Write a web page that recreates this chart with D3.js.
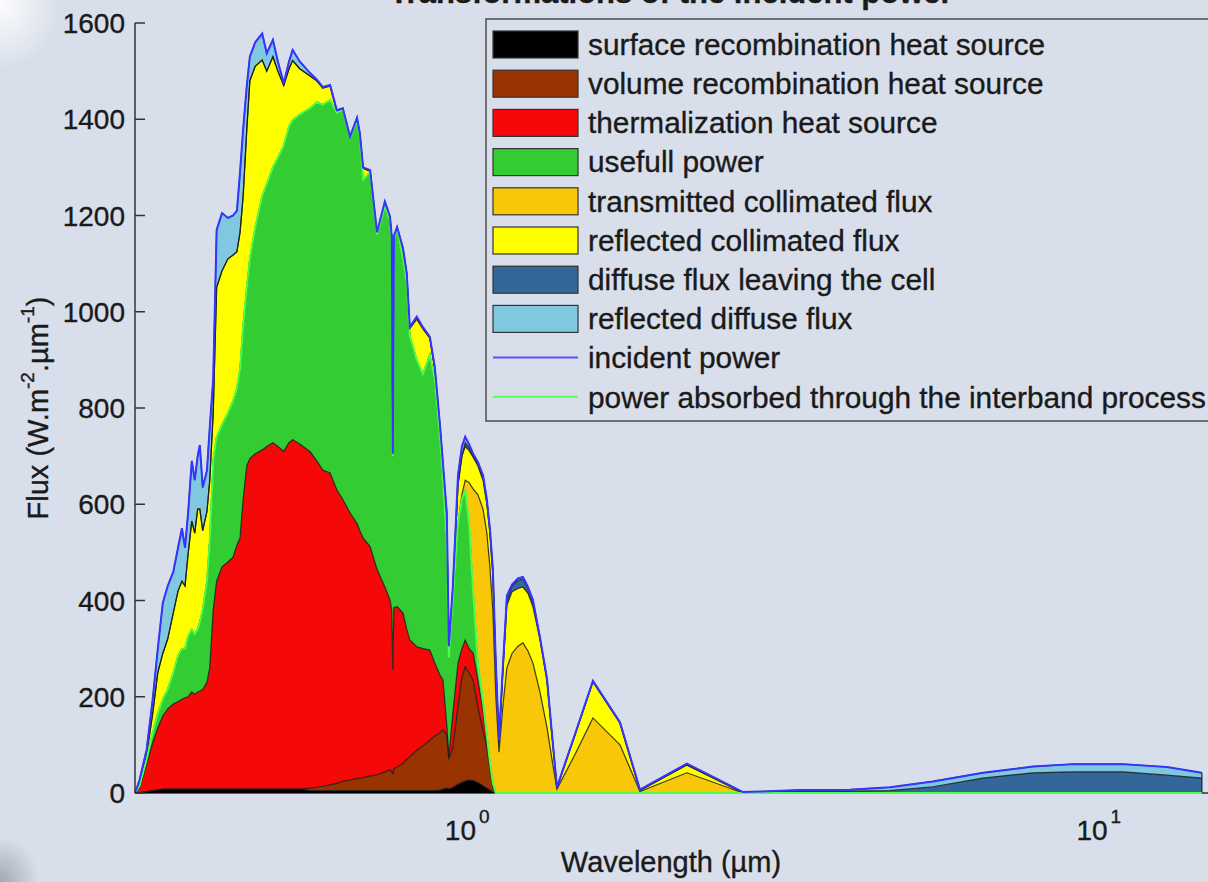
<!DOCTYPE html>
<html>
<head>
<meta charset="utf-8">
<script src="https://cdn.jsdelivr.net/npm/d3@7"></script>
<style>
  html, body { margin: 0; padding: 0; background: #d9dfea; }
  svg { display: block; }
  text { font-family: "Liberation Sans", Arial, sans-serif; fill: #1a1a1a; stroke: #1a1a1a; stroke-width: 0.35px; }
</style>
</head>
<body>
<svg id="chart" width="1208" height="882"></svg>
<script>
// ---------------- data ----------------
const wavelength = [0.300,0.305,0.313,0.320,0.326,0.332,0.338,0.345,0.351,0.356,0.360,0.364,0.369,0.373,0.377,0.380,0.384,0.390,0.394,0.399,
  0.404,0.412,0.421,0.429,0.435,0.440,0.445,0.451,0.456,0.465,0.477,0.485,0.496,0.505,0.516,0.526,0.533,0.547,0.568,0.582,
  0.595,0.611,0.626,0.640,0.657,0.674,0.681,0.689,0.707,0.725,0.746,0.760,0.765,0.768,0.771,0.780,0.797,0.808,0.817,0.838,
  0.857,0.879,0.895,0.912,0.922,0.935,0.942,0.956,0.974,0.988,1.000,1.014,1.029,1.047,1.067,1.082,1.094,1.106,1.118,1.131,
  1.147,1.164,1.186,1.212,1.234,1.257,1.280,1.313,1.347,1.372,1.397,1.492,1.593,1.758,1.891,2.244,2.753,2.929,3.388,4.065,
  4.703,5.503,6.602,7.921,9.167,11.00,12.91,14.67];

const surfaceRecombination = [0,1,3,5,6,8,8,8,8,8,8,8,8,8,8,8,8,8,8,8,
  8,8,8,8,8,8,8,8,8,8,8,8,8,8,8,8,8,8,5,5,
  5,5,5,5,5,5,5,5,5,5,5,5,5,5,5,5,5,5,5,5,
  5,5,5,6,8,10,8,12,18,22,25,27,26,22,15,10,6,2,0,0,
  0,0,0,0,0,0,0,0,0,0,0,0,0,0,0,0,0,0,0,0,
  0,0,0,0,0,0,0,0];

const volumeRecombination = [0,0,0,0,0,0,0,0,0,0,0,0,0,0,0,0,0,0,0,0,
  0,0,0,0,0,0,0,0,0,0,0,0,0,0,0,0,0,0,5,7,
  9,12,15,19,22,25,26,27,30,33,39,43,41,33,45,49,57,65,70,84,
  93,105,113,119,123,110,62,84,162,218,237,223,209,157,115,86,44,10,0,0,
  0,0,0,0,0,0,0,0,0,0,0,0,0,0,0,0,0,0,0,0,
  0,0,0,0,0,0,0,0];

const thermalization = [0,9,57,100,129,152,167,177,182,187,190,192,202,197,202,204,207,222,252,372,
  432,462,472,482,507,522,602,672,687,697,705,712,720,712,702,720,726,717,699,678,
  657,648,610,586,555,530,514,498,477,427,384,353,334,218,335,333,312,270,243,215,
  202,187,152,120,104,20,5,70,90,60,56,50,56,56,40,14,10,2,0,0,
  0,0,0,0,0,0,0,0,0,0,0,0,0,0,0,0,0,0,0,0,
  0,0,0,0,0,0,0,0];

const usefulPower = [0,5,10,20,30,35,40,65,95,105,102,125,130,125,130,143,165,210,265,310,
  300,295,310,325,325,350,360,370,415,470,527,545,572,600,635,657,664,685,714,746,
  759,775,783,809,780,838,819,744,778,695,790,790,770,444,765,785,736,720,632,596,
  570,613,588,495,415,380,205,234,290,310,312,260,129,35,20,10,5,6,0,0,
  0,0,0,0,0,0,0,0,0,0,0,0,0,0,0,0,0,0,0,0,
  0,0,0,0,0,0,0,0];

const transmittedCollimated = [0,0,0,0,0,0,0,0,0,0,0,0,0,0,0,0,0,0,0,0,
  0,0,0,0,0,0,0,0,0,0,0,0,0,0,0,0,0,0,0,0,
  0,0,0,0,0,0,0,0,0,0,0,0,0,0,0,0,0,0,0,0,
  0,0,0,0,0,0,0,0,0,10,20,85,212,350,400,420,405,360,200,85,
  180,260,290,305,312,295,270,210,137,70,8,80,156,100,3,42,0,0,0,0,
  0,0,0,0,0,0,0,0];

const reflectedCollimated = [0,7,10,40,85,95,105,125,135,140,130,170,225,210,250,235,165,145,125,100,
  310,320,320,303,285,285,270,330,370,335,283,235,230,180,125,120,124,95,67,44,
  35,29,4,2,1,3,5,24,2,3,8,5,5,3,5,2,20,18,15,85,
  95,35,22,20,30,40,15,20,80,80,70,67,66,60,60,60,70,70,60,20,
  70,130,128,120,116,120,117,110,98,50,2,40,75,45,2,16,0,0,0,0,
  0,0,0,0,0,0,0,0];

const diffuseLeaving = [0,0,0,0,0,0,0,0,0,0,0,0,0,0,0,0,0,0,0,0,
  0,0,0,0,0,0,0,0,0,0,0,0,0,0,0,0,0,0,0,0,
  0,0,0,0,0,0,0,0,0,0,0,0,0,0,0,0,0,0,0,0,
  0,0,0,0,0,0,0,0,0,0,8,6,4,5,6,6,6,10,6,3,
  6,10,12,17,17,10,11,2,2,2,1,1,1,1,1,1,1,2,4,4,
  5,13,31,42,44,44,37,31];

const reflectedDiffuse = [0,5,10,30,50,105,110,85,90,110,80,85,125,110,110,133,90,85,110,70,
  120,120,85,82,85,125,140,90,50,50,55,37,35,20,5,15,22,15,6,3,
  2,2,2,2,1,2,2,2,2,2,3,2,2,2,2,2,2,2,3,5,
  3,3,5,5,5,22,10,10,20,20,12,7,3,3,4,4,4,5,4,2,
  4,10,3,4,4,3,3,2,1,1,1,1,1,1,1,2,1,1,2,3,
  7,11,11,13,16,16,17,11];

const seriesNames = ["surface recombination heat source","volume recombination heat source","thermalization heat source",
  "usefull power","transmitted collimated flux","reflected collimated flux","diffuse flux leaving the cell","reflected diffuse flux"];
const lineNames = ["incident power","power absorbed through the interband process"];
const yTicks = [0,200,400,600,800,1000,1200,1400,1600];
const xTicks = [1,10];
const xTickExponents = ["0","1"];
const titleText = "Transformations of the incident power";
const xLabel = "Wavelength (µm)";

// ---------------- build ----------------
const keys = ["surface","volume","therm","useful","trans","reflColl","diffLeave","reflDiff"];
const seriesArrays = [surfaceRecombination, volumeRecombination, thermalization, usefulPower,
  transmittedCollimated, reflectedCollimated, diffuseLeaving, reflectedDiffuse];
const colors = ["#000000","#993300","#f70808","#33cc33","#f8c808","#ffff00","#336699","#80c8e0"];

const rows = wavelength.map((w, i) => {
  const r = { wl: w };
  keys.forEach((k, j) => r[k] = seriesArrays[j][i]);
  return r;
});

const stacked = d3.stack().keys(keys)(rows);

const svg = d3.select("#chart");
const W = 1208, H = 882;
const margin = { left: 135, right: 0, top: 23, bottom: 89 };

// background + slide-corner decoration
const defs = svg.append("defs");
const glow = defs.append("radialGradient").attr("id", "glow");
glow.append("stop").attr("offset", "0%").attr("stop-color", "#ffffff").attr("stop-opacity", 0.95);
glow.append("stop").attr("offset", "100%").attr("stop-color", "#ffffff").attr("stop-opacity", 0);
const shade = defs.append("radialGradient").attr("id", "shade");
shade.append("stop").attr("offset", "0%").attr("stop-color", "#9aa2ab").attr("stop-opacity", 0.9);
shade.append("stop").attr("offset", "100%").attr("stop-color", "#9aa2ab").attr("stop-opacity", 0);
svg.append("rect").attr("width", W).attr("height", H).attr("fill", "#d9dfea");
svg.append("ellipse").attr("cx", 0).attr("cy", 0).attr("rx", 60).attr("ry", 70).attr("fill", "url(#glow)");
svg.append("ellipse").attr("cx", 0).attr("cy", 882).attr("rx", 40).attr("ry", 45).attr("fill", "url(#shade)");

const x = d3.scaleLog().domain([0.3, 15]).range([margin.left, W - margin.right]);
const y = d3.scaleLinear().domain([0, 1600]).range([H - margin.bottom, margin.top]);

// x axis baseline
svg.append("line").attr("x1", x(0.3)).attr("x2", W).attr("y1", y(0)).attr("y2", y(0))
  .attr("stroke", "#333").attr("stroke-width", 1.5);

const area = d3.area()
  .x(d => x(d.data.wl))
  .y0(d => y(d[0]))
  .y1(d => y(d[1]));
const topLine = d3.line()
  .x(d => x(d.data.wl))
  .y(d => y(d[1]));

const g = svg.append("g");
stacked.forEach((s, i) => {
  g.append("path").attr("d", area(s)).attr("fill", colors[i]).attr("stroke", "none");
});
stacked.forEach((s, i) => {
  g.append("path").attr("d", topLine(s)).attr("fill", "none")
    .attr("stroke", "#1a1a1a").attr("stroke-width", 1.2).attr("stroke-opacity", 0.85);
});
// end-of-data vertical edge
const last = rows.length - 1;
g.append("line").attr("x1", x(wavelength[last])).attr("x2", x(wavelength[last]))
  .attr("y1", y(0)).attr("y2", y(stacked[7][last][1])).attr("stroke", "#1a1a1a").attr("stroke-width", 1.1);

// interband absorbed power (top of the first four layers) and incident power (total)
const lineGen = d3.line().x(d => x(d.data.wl)).y(d => y(d[1]));
g.append("path").attr("d", lineGen(stacked[3])).attr("fill", "none")
  .attr("stroke", "#4cff4c").attr("stroke-width", 2);
g.append("path").attr("d", lineGen(stacked[7])).attr("fill", "none")
  .attr("stroke", "#3535ff").attr("stroke-width", 2);

// y axis
const yAxisG = svg.append("g");
yAxisG.append("line").attr("x1", margin.left).attr("x2", margin.left)
  .attr("y1", y(1600)).attr("y2", y(0)).attr("stroke", "#333").attr("stroke-width", 1.5);
yTicks.forEach(t => {
  yAxisG.append("line").attr("x1", margin.left).attr("x2", margin.left + 10)
    .attr("y1", y(t)).attr("y2", y(t)).attr("stroke", "#333").attr("stroke-width", 1.5);
  yAxisG.append("text").attr("x", 125).attr("y", y(t)).attr("dy", "0.36em")
    .attr("text-anchor", "end").attr("font-size", 28).text(t);
});

// x tick labels (10^n)
xTicks.forEach((t, i) => {
  const tx = svg.append("text").attr("x", x(t) + 2).attr("y", 840)
    .attr("text-anchor", "middle").attr("font-size", 28);
  tx.append("tspan").text("10");
  tx.append("tspan").attr("font-size", 19).attr("dy", -17).attr("dx", 3).text(xTickExponents[i]);
});

// axis labels
svg.append("text").attr("x", 671).attr("y", 872).attr("text-anchor", "middle")
  .attr("font-size", 29).text(xLabel);

const yl = svg.append("text").attr("transform", "translate(48,408) rotate(-90)")
  .attr("text-anchor", "middle").attr("font-size", 29);
yl.append("tspan").text("Flux (W.m");
yl.append("tspan").attr("font-size", 19).attr("dy", -14).text("-2");
yl.append("tspan").attr("dy", 14).text(".µm");
yl.append("tspan").attr("font-size", 19).attr("dy", -14).text("-1");
yl.append("tspan").attr("dy", 14).text(")");

// title (clipped at the top of the picture, as in the reference)
svg.append("text").attr("x", 671).attr("y", 3).attr("text-anchor", "middle")
  .attr("font-size", 31).attr("font-weight", "bold").text(titleText);

// legend
const leg = svg.append("g");
leg.append("rect").attr("x", 486).attr("y", 19).attr("width", 740).attr("height", 402)
  .attr("fill", "#d9dfea").attr("stroke", "#555").attr("stroke-width", 1.6);
const rowY = i => 44 + i * 39.2;
seriesNames.forEach((n, i) => {
  leg.append("rect").attr("x", 493).attr("y", rowY(i) - 13).attr("width", 85).attr("height", 27)
    .attr("fill", colors[i]).attr("stroke", "#333").attr("stroke-width", 1.2);
  leg.append("text").attr("x", 588).attr("y", rowY(i)).attr("dy", "0.36em")
    .attr("font-size", 29.8).text(n);
});
const lineColors = ["#5555ff", "#55ff55"];
lineNames.forEach((n, j) => {
  const i = seriesNames.length + j;
  leg.append("line").attr("x1", 493).attr("x2", 578).attr("y1", rowY(i)).attr("y2", rowY(i))
    .attr("stroke", lineColors[j]).attr("stroke-width", 2);
  leg.append("text").attr("x", 588).attr("y", rowY(i)).attr("dy", "0.36em")
    .attr("font-size", 29.8).text(n);
});
</script>
</body>
</html>
